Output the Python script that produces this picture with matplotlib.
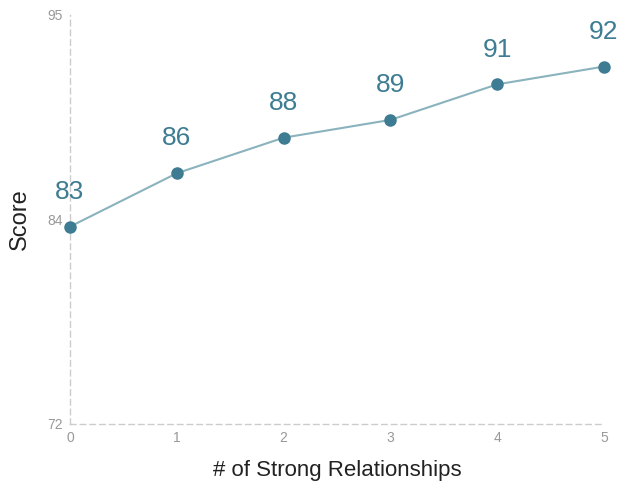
import matplotlib
matplotlib.use("Agg")
import matplotlib.pyplot as plt

# Data
relationships = [0, 1, 2, 3, 4, 5]
scores = [83.1, 86.1, 88.1, 89.1, 91.1, 92.1]
score_labels = ["83", "86", "88", "89", "91", "92"]
y_ticks = [72, 83.5, 95]
y_tick_labels = ["72", "84", "95"]

plt.rcParams['font.family'] = ['Liberation Sans', 'DejaVu Sans']

fig = plt.figure(figsize=(6.22, 4.87), dpi=100)
ax = fig.add_axes([70/622, 63/487, 534/622, 409/487])

# Line and markers
ax.plot(relationships, scores, '-', color='#8ab3bd', linewidth=1.5, zorder=2, clip_on=False)
ax.plot(relationships, scores, 'o', color='#3e7c93', markersize=8, zorder=3, clip_on=False)

# Value labels above each point
for x, y, lab in zip(relationships, scores, score_labels):
    ax.annotate(lab, (x, y), xytext=(0, 20), textcoords='offset points',
                ha='center', va='baseline', fontsize=19, color='#3e7c93')

ax.set_xlim(0, 5)
ax.set_ylim(72, 95)
ax.set_xticks(relationships)
ax.set_yticks(y_ticks)
ax.set_yticklabels(y_tick_labels)
ax.tick_params(length=0, labelsize=10, labelcolor='#999999', pad=5)

# Dashed axis lines only
for side in ['top', 'right']:
    ax.spines[side].set_visible(False)
for side in ['left', 'bottom']:
    ax.spines[side].set_linestyle((0, (4, 3)))
    ax.spines[side].set_color('#cccccc')
    ax.spines[side].set_linewidth(1)

ax.set_xlabel("# of Strong Relationships", fontsize=16, color='#222222', labelpad=11)
ax.set_ylabel("Score", fontsize=17, color='#222222', labelpad=12)

fig.savefig("out.png", dpi=100)
